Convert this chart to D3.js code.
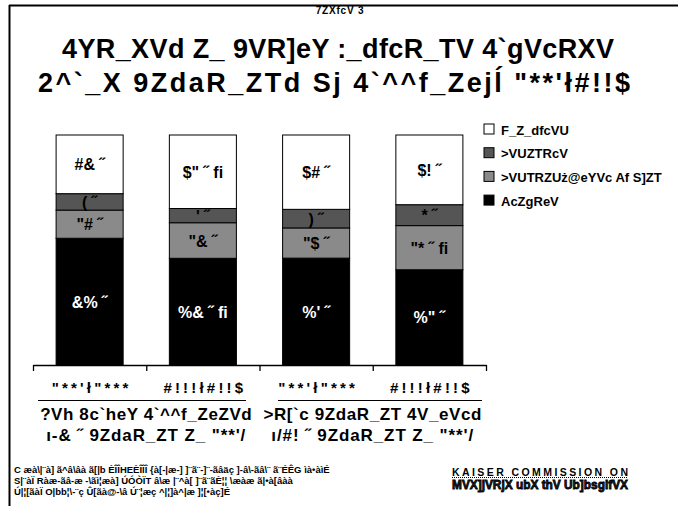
<!DOCTYPE html>
<html>
<head>
<meta charset="utf-8">
<script src="https://cdn.jsdelivr.net/npm/d3@7"></script>
<style>
  body { margin: 0; background: #fff; }
  text { font-family: "Liberation Sans Narrow", "Liberation Sans", Arial, sans-serif; font-weight: bold; }
</style>
</head>
<body>
<div id="chart"></div>
<script>
var width = 678;
var height = 506;

// values (percent of each group)
var periods = ["\"**'ł\"***", "#!!!ł#!!$", "\"**'ł\"***", "#!!!ł#!!$"];
var uninsured = [25, 31, 32, 30];
var medicare = [7, 6, 8, 9];
var medicaidOther = [12, 15, 13, 19];
var privateCov = [54, 45, 46, 41];
// which labels carry the trailing mark
var starFlags = {
  uninsured: [false, true, false, false],
  medicare: [false, false, false, false],
  medicaidOther: [false, false, false, true],
  privateCov: [false, true, false, false]
};
var seriesKeys = ["privateCov", "medicaidOther", "medicare", "uninsured"];
var legendNames = ["F_Z_dfcVU", ">VUZTRcV", ">VUTRZUż@eYVc Af S]ZT", "AcZgReV"];
var legendKeys = ["uninsured", "medicare", "medicaidOther", "privateCov"];
var groupNames = [["?Vh 8c`heY 4`^^f_ZeZVd", "ı-& ˝ 9ZdaR_ZT Z_ \"**'/"],
                  [">R[`c 9ZdaR_ZT 4V_eVcd", "ı/#! ˝ 9ZdaR_ZT Z_ \"**'/"]];
var colors = { uninsured: "#ffffff", medicare: "#555555", medicaidOther: "#8a8a8a", privateCov: "#000000" };

// the chart's digits come out in a shifted symbol font
var digitMap = "!\"#$%&'()*";
function enc(n) {
  return String(n).split("").map(function (c) { return digitMap[+c]; }).join("");
}

var rows = periods.map(function (p, i) {
  return { i: i, period: p, uninsured: uninsured[i], medicare: medicare[i],
           medicaidOther: medicaidOther[i], privateCov: privateCov[i] };
});

var svg = d3.select("#chart").append("svg")
  .attr("width", width)
  .attr("height", height);

// frame
svg.append("line").attr("x1", 9.5).attr("y1", 5).attr("x2", 9.5).attr("y2", height)
  .attr("stroke", "#000").attr("stroke-width", 2);
svg.append("line").attr("x1", 9).attr("y1", 5.5).attr("x2", width).attr("y2", 5.5)
  .attr("stroke", "#000").attr("stroke-width", 2);

// titles
svg.append("text").attr("x", 340).attr("y", 14).attr("text-anchor", "middle")
  .attr("font-size", 10).attr("letter-spacing", 0.8).text("7ZXfcV 3");
svg.append("text").attr("x", 338).attr("y", 58).attr("text-anchor", "middle")
  .attr("font-size", 27).attr("textLength", 552).attr("lengthAdjust", "spacing")
  .text("4YR_XVd Z_ 9VR]eY :_dfcR_TV 4`gVcRXV");
svg.append("text").attr("x", 334).attr("y", 92).attr("text-anchor", "middle")
  .attr("font-size", 27).attr("textLength", 592).attr("lengthAdjust", "spacing")
  .text("2^`_X 9ZdaR_ZTd Sj 4`^^f_Zejĺ \"**'ł#!!$");

// scales
var x = d3.scaleBand().domain(d3.range(rows.length)).range([33, 486])
  .paddingInner(0.408).paddingOuter(0.204);
var y = d3.scaleLinear().domain([0, 1]).range([365, 135]);

var stack = d3.stack().keys(seriesKeys).offset(d3.stackOffsetExpand);
var layers = stack(rows);

var layerG = svg.selectAll("g.layer").data(layers).enter().append("g").attr("class", "layer");

layerG.selectAll("rect").data(function (d) { return d.map(function (v) { v.key = d.key; return v; }); })
  .enter().append("rect")
  .attr("x", function (d) { return x(d.data.i); })
  .attr("y", function (d) { return y(d[1]); })
  .attr("width", x.bandwidth())
  .attr("height", function (d) { return y(d[0]) - y(d[1]); })
  .attr("fill", function (d) { return colors[d.key]; })
  .attr("stroke", "#000")
  .attr("stroke-width", 1);

layerG.selectAll("text").data(function (d) { return d; })
  .enter().append("text")
  .attr("x", function (d) { return x(d.data.i) + x.bandwidth() / 2; })
  .attr("y", function (d) { return (y(d[0]) + y(d[1])) / 2 + 6; })
  .attr("text-anchor", "middle")
  .attr("font-size", 16)
  .attr("fill", function (d) { return d.key === "privateCov" ? "#fff" : "#000"; })
  .text(function (d) {
    var s = enc(d.data[d.key]) + " ˝";
    if (starFlags[d.key][d.data.i]) s += " fi";
    return s;
  });

// axis with ticks at group boundaries
var xb = d3.scaleLinear().domain([0, 4]).range([33, 486]);
svg.append("g").attr("transform", "translate(0,365)")
  .call(d3.axisBottom(xb).tickValues([0, 1, 2, 3, 4]).tickSize(6).tickSizeOuter(0).tickFormat(""))
  .call(function (g) { g.selectAll("line, path").attr("stroke", "#000").attr("stroke-width", 1.3); });

// period labels
svg.selectAll("text.period").data(rows).enter().append("text")
  .attr("class", "period")
  .attr("x", function (d) { return x(d.i) + x.bandwidth() / 2 + 2; })
  .attr("y", 393)
  .attr("text-anchor", "middle")
  .attr("font-size", 15)
  .attr("letter-spacing", 3.2)
  .text(function (d) { return d.period; });

// group underlines and names
var groupSpan = [[38, 246], [278, 482]];
groupSpan.forEach(function (s, gi) {
  svg.append("line").attr("x1", s[0]).attr("x2", s[1]).attr("y1", 400.5).attr("y2", 400.5)
    .attr("stroke", "#000").attr("stroke-width", 1);
  var cx = xb(gi * 2 + 1);
  svg.append("text").attr("x", cx).attr("y", 420).attr("text-anchor", "middle")
    .attr("font-size", 17).attr("letter-spacing", 0.6).text(groupNames[gi][0]);
  svg.append("text").attr("x", cx).attr("y", 441).attr("text-anchor", "middle")
    .attr("font-size", 17).attr("letter-spacing", 0.9).text(groupNames[gi][1]);
});

// legend
var legend = svg.selectAll("g.legend").data(legendKeys).enter().append("g")
  .attr("class", "legend")
  .attr("transform", function (d, i) { return "translate(484," + (124 + i * 23.7) + ")"; });
legend.append("rect").attr("width", 10).attr("height", 10)
  .attr("fill", function (d) { return colors[d]; })
  .attr("stroke", "#000").attr("stroke-width", 1);
legend.append("text").attr("x", 17).attr("y", 10.5).attr("font-size", 13)
  .text(function (d, i) { return legendNames[i]; });

// source note
var notes = [
  "C æà\\|¨à] ã^â\\âà ã[|b ÈÎÎHEÈÎÎÎ {à[-|æ-] ]¨ã¨-]¨-ãâäç ]-â\\-ãâ\\¨ ã¨ÉÊG ìà•àìÉ",
  "S|¨àÏ Ràæ-ãâ-æ -\\ãì¦æà] ÚÓÒÏT â\\æ |¨^à[ ]¨ã¨ãÈ¦¦ \\æàæ ã|•à[âàà",
  "Ú|¦[ãàÏ O|bb¦\\-¨ç Û[ãà@-\\â Ú¨¦æç ^|¦]à^|æ ]¦[•àç]É"
];
svg.selectAll("text.note").data(notes).enter().append("text")
  .attr("class", "note")
  .attr("x", 14)
  .attr("y", function (d, i) { return 473 + i * 11.2; })
  .attr("font-size", 9.5)
  .attr("font-weight", "normal")
  .text(function (d) { return d; });

// logo
svg.append("text").attr("x", 540).attr("y", 476).attr("text-anchor", "middle")
  .attr("font-size", 10.5).attr("font-family", "Liberation Sans, Arial, sans-serif")
  .attr("textLength", 176).attr("lengthAdjust", "spacing")
  .text("KAISER COMMISSION ON");
svg.append("line").attr("x1", 452).attr("x2", 628).attr("y1", 477.5).attr("y2", 477.5)
  .attr("stroke", "#000").attr("stroke-width", 1).attr("stroke-dasharray", "1,1");
svg.append("text").attr("x", 540).attr("y", 489).attr("text-anchor", "middle")
  .attr("font-size", 12).attr("font-family", "Liberation Sans, Arial, sans-serif")
  .attr("stroke", "#000").attr("stroke-width", 0.8).attr("fill", "#222")
  .attr("textLength", 176).attr("lengthAdjust", "spacingAndGlyphs")
  .text("MVX]jVRjX ubX thV Ub]bsgifVX");
</script>
</body>
</html>
